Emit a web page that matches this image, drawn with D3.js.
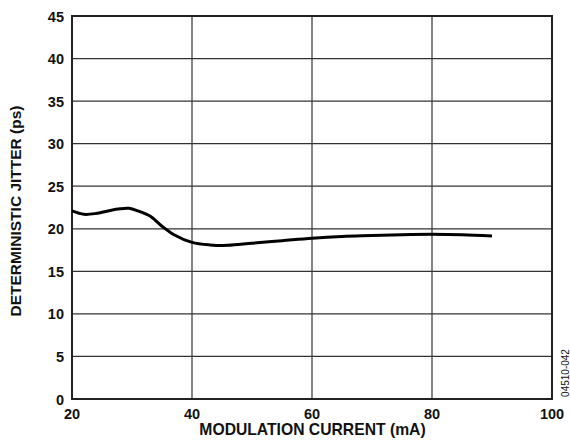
<!doctype html>
<html>
<head>
<meta charset="utf-8" />
<script src="https://cdn.jsdelivr.net/npm/d3@7"></script>
<style>
  body { margin: 0; background: #fff; }
  text { font-family: "Liberation Sans", Arial, sans-serif; fill: #111; }
  .b { font-weight: bold; }
</style>
</head>
<body>
<svg id="chart" width="570" height="445"></svg>
<script>
// modulation current (mA) vs deterministic jitter (ps)
var current = [20, 22, 24, 26, 28, 29.5, 31, 33, 35, 37, 40, 43, 46, 50, 55, 60, 65, 70, 75, 80, 85, 90];
var jitter  = [22.1, 21.7, 21.8, 22.1, 22.35, 22.4, 22.1, 21.5, 20.3, 19.3, 18.4, 18.1, 18.05, 18.3, 18.6, 18.9, 19.1, 19.2, 19.3, 19.35, 19.3, 19.15];
var xTicks = [20, 40, 60, 80, 100];
var yTicks = [0, 5, 10, 15, 20, 25, 30, 35, 40, 45];

var svg = d3.select("#chart");
var plotL = 72, plotR = 552, plotT = 16, plotB = 399;

var x = d3.scaleLinear().domain([20, 100]).range([plotL, plotR]);
var y = d3.scaleLinear().domain([0, 45]).range([plotB, plotT]);

// grid
svg.append("g").selectAll("line").data(xTicks.slice(1, -1)).join("line")
  .attr("x1", d => x(d)).attr("x2", d => x(d))
  .attr("y1", plotT).attr("y2", plotB)
  .attr("stroke", "#333").attr("stroke-width", 1.2);
svg.append("g").selectAll("line").data(yTicks.slice(1, -1)).join("line")
  .attr("x1", plotL).attr("x2", plotR)
  .attr("y1", d => y(d)).attr("y2", d => y(d))
  .attr("stroke", "#333").attr("stroke-width", 1.2);

// frame
svg.append("rect")
  .attr("x", plotL).attr("y", plotT)
  .attr("width", plotR - plotL).attr("height", plotB - plotT)
  .attr("fill", "none").attr("stroke", "#222").attr("stroke-width", 2);

// tick labels
svg.append("g").selectAll("text").data(yTicks).join("text")
  .attr("class", "b")
  .attr("x", plotL - 8).attr("y", d => y(d) + 5.5)
  .attr("text-anchor", "end")
  .attr("font-size", 14.5)
  .text(d => d);
svg.append("g").selectAll("text").data(xTicks).join("text")
  .attr("class", "b")
  .attr("x", d => x(d)).attr("y", 419)
  .attr("text-anchor", "middle")
  .attr("font-size", 14.5)
  .text(d => d);

// axis titles
svg.append("text")
  .attr("class", "b")
  .attr("x", 312.5).attr("y", 435)
  .attr("text-anchor", "middle")
  .attr("font-size", 15.7)
  .text("MODULATION CURRENT (mA)");
svg.append("text")
  .attr("class", "b")
  .attr("transform", "translate(21,211) rotate(-90)")
  .attr("text-anchor", "middle")
  .attr("font-size", 15.5)
  .text("DETERMINISTIC JITTER (ps)");

svg.append("text")
  .attr("transform", "translate(569,373) rotate(-90)")
  .attr("text-anchor", "middle")
  .attr("font-size", 10)
  .text("04510-042");

// curve
var pts = current.map((c, i) => [c, jitter[i]]);
var line = d3.line().x(d => x(d[0])).y(d => y(d[1])).curve(d3.curveCatmullRom);
svg.append("path").datum(pts)
  .attr("d", line)
  .attr("fill", "none").attr("stroke", "#000")
  .attr("stroke-width", 3).attr("stroke-linejoin", "round");
</script>
</body>
</html>
